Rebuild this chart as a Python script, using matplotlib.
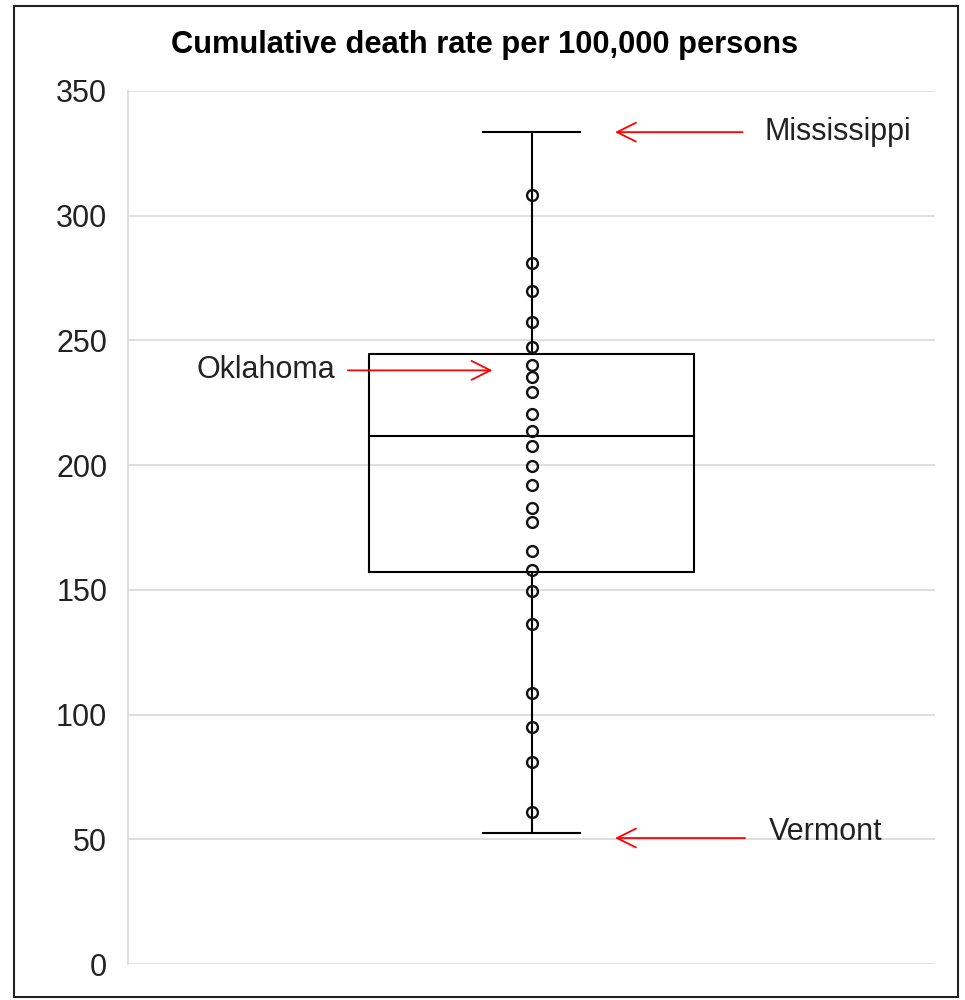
import matplotlib.pyplot as plt
from matplotlib.patches import Rectangle

# Box summary
box_stats = {'whislo': 52.6, 'q1': 157.3, 'med': 211.7, 'q3': 244.6, 'whishi': 333.5}

# Individual state values drawn as circles
state_rates = [308.3, 281.2, 270.0, 257.5, 247.5, 240.2, 235.2, 229.3, 220.4,
               213.7, 207.7, 199.7, 192.1, 183.0, 177.3, 165.7, 158.0, 149.7,
               136.2, 108.5, 94.9, 81.1, 61.1]

# Labelled states
label_names = ['Mississippi', 'Oklahoma', 'Vermont']
label_values = [333.5, 238.0, 50.5]

yticks = [0, 50, 100, 150, 200, 250, 300, 350]

plt.rcParams['font.family'] = ['Liberation Sans', 'DejaVu Sans']

fig = plt.figure(figsize=(9.65, 10), dpi=100)
ax = fig.add_axes([0.1326, 0.036, 0.8364, 0.873])

ax.bxp([dict(box_stats, fliers=[], label='')], positions=[1], widths=0.806,
       showfliers=False, boxprops=dict(color='black', lw=1.5),
       whiskerprops=dict(color='black', lw=1.5),
       capprops=dict(color='black', lw=1.5),
       medianprops=dict(color='black', lw=1.5),
       capwidths=0.24, zorder=3)

ax.plot([1] * len(state_rates), state_rates, 'o', mfc='none', mec='#111111',
        mew=1.7, ms=7.8, zorder=4)

ax.set_xlim(0, 2)
ax.set_ylim(0, 350)
ax.set_yticks(yticks)
ax.set_xticks([])
ax.tick_params(axis='y', length=0, labelsize=22, labelcolor='#222222', pad=15)
ax.grid(axis='y', color='#d9d9d9', lw=1.2, zorder=0)
for side in ['top', 'right', 'bottom']:
    ax.spines[side].set_visible(False)
ax.spines['left'].set_color('#d9d9d9')
ax.spines['left'].set_linewidth(1.2)

arrow = dict(arrowstyle='->', color='red', lw=1.3, mutation_scale=34)
# Mississippi
ax.annotate('', xy=(0.600, label_values[0]), xytext=(0.765, label_values[0]),
            xycoords=('axes fraction', 'data'), arrowprops=arrow)
ax.text(0.789, label_values[0], label_names[0], transform=ax.get_yaxis_transform(),
        fontsize=22, va='center', ha='left', color='#222222')
# Oklahoma
ax.annotate('', xy=(0.455, label_values[1]), xytext=(0.269, label_values[1]),
            xycoords=('axes fraction', 'data'), arrowprops=arrow)
ax.text(0.2565, label_values[1], label_names[1], transform=ax.get_yaxis_transform(),
        fontsize=22, va='center', ha='right', color='#222222')
# Vermont
ax.annotate('', xy=(0.600, label_values[2]), xytext=(0.768, label_values[2]),
            xycoords=('axes fraction', 'data'), arrowprops=arrow)
ax.text(0.794, label_values[2] + 2.5, label_names[2], transform=ax.get_yaxis_transform(),
        fontsize=22, va='center', ha='left', color='#222222')

fig.text(0.5026, 0.955, 'Cumulative death rate per 100,000 persons',
         fontsize=22.2, fontweight='bold', ha='center', va='center')

# outer frame of the chart
fig.patches.append(Rectangle((0.0145, 0.003), 0.978, 0.991, transform=fig.transFigure,
                             fill=False, ec='#222222', lw=1.5))

fig.savefig('out.png', dpi=100)
